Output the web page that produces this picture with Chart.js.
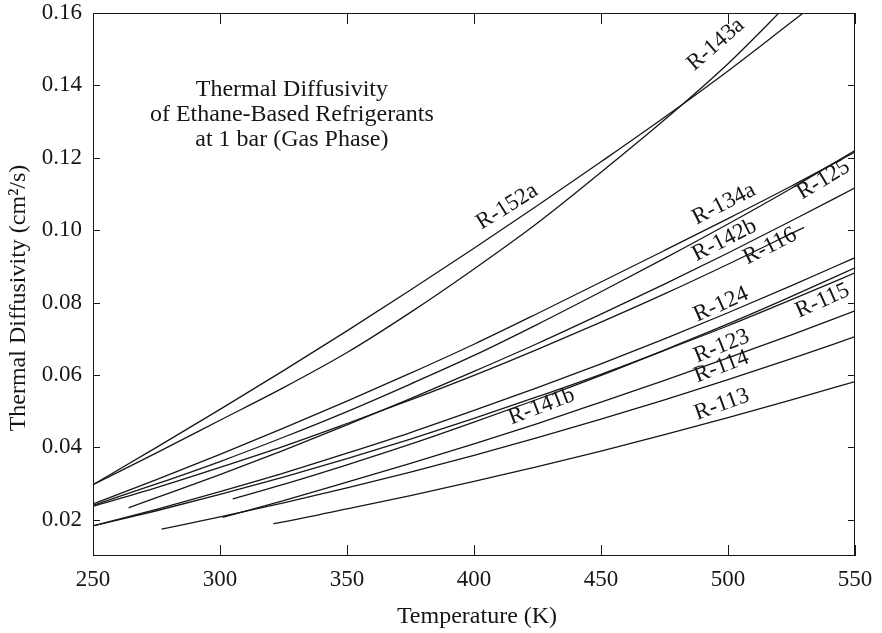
<!DOCTYPE html>
<html>
<head>
<meta charset="utf-8">
<title>Thermal Diffusivity of Ethane-Based Refrigerants</title>
<script src="https://cdn.jsdelivr.net/npm/chart.js@4.4.1/dist/chart.umd.min.js"></script>
<style>
  html, body { margin: 0; padding: 0; background: #fff; }
  #wrap { width: 882px; height: 633px; }
</style>
</head>
<body>
<div id="wrap"><canvas id="diffusivityChart" width="882" height="633"></canvas></div>
<script>
const SERIF = '"Liberation Serif", "Times New Roman", Times, serif';
const INK = '#161616';

// axis ticks
const xTicks = [250, 300, 350, 400, 450, 500, 550];
const yTicks = [0.02, 0.04, 0.06, 0.08, 0.10, 0.12, 0.14, 0.16];

// temperatures (K) the curves were read at
const tempGrid = [250, 275, 300, 325, 350, 375, 400, 425, 450, 475, 500, 525, 550];
const r143aTemps = [250, 275, 300, 325, 350, 375, 400, 425, 450, 475, 500, 525];
const r142bTemps = [264, 275, 300, 325, 350, 375, 400, 425, 450, 475, 500, 525, 550];
const r116Temps = [250, 275, 300, 325, 350, 375, 400, 425, 450, 475, 500, 525, 530];
const r141bTemps = [305, 325, 350, 375, 400, 425, 450, 475, 500, 525, 550];
const r123Temps = [301, 325, 350, 375, 400, 425, 450, 475, 500, 525, 550];
const r114Temps = [277, 300, 325, 350, 375, 400, 425, 450, 475, 500, 525, 550];
const r113Temps = [321, 325, 350, 375, 400, 425, 450, 475, 500, 525, 550];

// thermal diffusivity (cm2/s)
const r152a = [0.0297, 0.0400, 0.0505, 0.0612, 0.0722, 0.0835, 0.0950, 0.1068, 0.1189, 0.1312, 0.1440, 0.1575, 0.1710];
const r143a = [0.0297, 0.0385, 0.0475, 0.0565, 0.0662, 0.0773, 0.0893, 0.1020, 0.1160, 0.1305, 0.1460, 0.1635];
const r134a = [0.0244, 0.0311, 0.0381, 0.0453, 0.0528, 0.0605, 0.0685, 0.0770, 0.0857, 0.0944, 0.1032, 0.1122, 0.1216];
const r125 = [0.0240, 0.0299, 0.0361, 0.0428, 0.0499, 0.0575, 0.0654, 0.0740, 0.0830, 0.0922, 0.1017, 0.1116, 0.1220];
const r142b = [0.0233, 0.0261, 0.0325, 0.0392, 0.0462, 0.0535, 0.0610, 0.0687, 0.0768, 0.0851, 0.0937, 0.1026, 0.1117];
const r116 = [0.0237, 0.0289, 0.0345, 0.0403, 0.0466, 0.0531, 0.0599, 0.0671, 0.0746, 0.0824, 0.0906, 0.0991, 0.1008];
const r124 = [0.0183, 0.0229, 0.0278, 0.0329, 0.0384, 0.0441, 0.0502, 0.0565, 0.0631, 0.0700, 0.0772, 0.0847, 0.0924];
const r115 = [0.0183, 0.0225, 0.0270, 0.0318, 0.0369, 0.0423, 0.0480, 0.0540, 0.0602, 0.0668, 0.0736, 0.0808, 0.0882];
const r141b = [0.0258, 0.0298, 0.0352, 0.0409, 0.0470, 0.0533, 0.0599, 0.0669, 0.0741, 0.0817, 0.0896];
const r123 = [0.0207, 0.0253, 0.0304, 0.0356, 0.0410, 0.0466, 0.0525, 0.0585, 0.0647, 0.0711, 0.0777];
const r114 = [0.0174, 0.0208, 0.0247, 0.0288, 0.0332, 0.0378, 0.0427, 0.0478, 0.0531, 0.0587, 0.0645, 0.0706];
const r113 = [0.0189, 0.0194, 0.0230, 0.0267, 0.0306, 0.0347, 0.0390, 0.0435, 0.0482, 0.0531, 0.0582];

const series = [
  ['R-152a', tempGrid, r152a],
  ['R-143a', r143aTemps, r143a],
  ['R-134a', tempGrid, r134a],
  ['R-125', tempGrid, r125],
  ['R-142b', r142bTemps, r142b],
  ['R-116', r116Temps, r116],
  ['R-124', tempGrid, r124],
  ['R-115', tempGrid, r115],
  ['R-141b', r141bTemps, r141b],
  ['R-123', r123Temps, r123],
  ['R-114', r114Temps, r114],
  ['R-113', r113Temps, r113]
];

// curve names written along the lines (baseline start in data units, angle in degrees)
const curveLabels = [
  { text: 'R-143a', t: 486.7, v: 0.1439, angle: 41 },
  { text: 'R-152a', t: 403.0, v: 0.1001, angle: 32 },
  { text: 'R-134a', t: 487.6, v: 0.1015, angle: 27 },
  { text: 'R-125', t: 529.1, v: 0.1084, angle: 31 },
  { text: 'R-142b', t: 487.6, v: 0.0914, angle: 27 },
  { text: 'R-116', t: 507.7, v: 0.0905, angle: 27 },
  { text: 'R-124', t: 487.9, v: 0.0747, angle: 24 },
  { text: 'R-115', t: 528.0, v: 0.0758, angle: 24 },
  { text: 'R-123', t: 487.9, v: 0.0634, angle: 22 },
  { text: 'R-114', t: 487.9, v: 0.0579, angle: 21 },
  { text: 'R-113', t: 487.9, v: 0.0476, angle: 20 },
  { text: 'R-141b', t: 414.8, v: 0.0463, angle: 21 }
];

const noteLines = ['Thermal Diffusivity', 'of Ethane-Based Refrigerants', 'at 1 bar (Gas Phase)'];

const decorations = {
  id: 'decorations',
  afterDraw(chart) {
    const { ctx, chartArea: a, scales: { x, y } } = chart;
    ctx.save();

    // frame and inward ticks
    ctx.strokeStyle = INK;
    ctx.lineWidth = 1;
    ctx.strokeRect(a.left + 0.5, a.top + 0.5, a.right - a.left - 1, a.bottom - a.top - 1);
    ctx.beginPath();
    xTicks.forEach(t => {
      const px = Math.round(x.getPixelForValue(t)) + 0.5;
      ctx.moveTo(px, a.bottom); ctx.lineTo(px, a.bottom - 11);
      ctx.moveTo(px, a.top); ctx.lineTo(px, a.top + 11);
    });
    yTicks.forEach(v => {
      const py = Math.round(y.getPixelForValue(v)) + 0.5;
      ctx.moveTo(a.left, py); ctx.lineTo(a.left + 7, py);
      ctx.moveTo(a.right, py); ctx.lineTo(a.right - 7, py);
    });
    ctx.stroke();

    ctx.fillStyle = INK;

    // curve labels
    ctx.font = '23px ' + SERIF;
    ctx.textAlign = 'left';
    ctx.textBaseline = 'alphabetic';
    curveLabels.forEach(l => {
      ctx.save();
      ctx.translate(x.getPixelForValue(l.t), y.getPixelForValue(l.v));
      ctx.rotate(-l.angle * Math.PI / 180);
      ctx.fillText(l.text, 0, 0);
      ctx.restore();
    });

    // note in the upper left
    ctx.font = '24px ' + SERIF;
    ctx.textAlign = 'center';
    const nx = x.getPixelForValue(328.3);
    const ny = y.getPixelForValue(0.137);
    noteLines.forEach((line, i) => ctx.fillText(line, nx, ny + i * 25));

    // axis titles
    ctx.textBaseline = 'middle';
    ctx.fillText('Temperature (K)', (a.left + a.right) / 2 + 3, 617);
    ctx.save();
    ctx.translate(19, 298);
    ctx.rotate(-Math.PI / 2);
    ctx.fillText('Thermal Diffusivity (cm\u00B2/s)', 0, 0);
    ctx.restore();

    ctx.restore();
  }
};

const ctx = document.getElementById('diffusivityChart').getContext('2d');

new Chart(ctx, {
  type: 'line',
  data: {
    datasets: series.map(([name, temps, values]) => ({
      label: name,
      data: temps.map((t, i) => ({ x: t, y: values[i] })),
      borderColor: INK,
      borderWidth: 1.3,
      pointRadius: 0,
      fill: false,
      cubicInterpolationMode: 'monotone'
    }))
  },
  options: {
    responsive: false,
    animation: false,
    devicePixelRatio: 1,
    layout: { padding: { top: 13, right: 27, left: 0, bottom: 0 } },
    plugins: {
      legend: { display: false },
      tooltip: { enabled: false }
    },
    scales: {
      x: {
        type: 'linear',
        min: 250,
        max: 550,
        afterBuildTicks: scale => { scale.ticks = xTicks.map(v => ({ value: v })); },
        afterFit: scale => {
          scale.height = 77;
          scale.paddingLeft = 0;
          scale.paddingRight = 0;
        },
        grid: { display: false, drawTicks: false, tickLength: 0 },
        border: { display: false },
        ticks: {
          padding: 10,
          color: INK,
          font: { family: SERIF, size: 23 },
          maxRotation: 0,
          callback: v => String(v)
        }
      },
      y: {
        type: 'linear',
        min: 0.01,
        max: 0.16,
        afterBuildTicks: scale => { scale.ticks = yTicks.map(v => ({ value: v })); },
        afterFit: scale => {
          scale.width = 93;
          scale.paddingTop = 0;
          scale.paddingBottom = 0;
        },
        grid: { display: false, drawTicks: false, tickLength: 0 },
        border: { display: false },
        ticks: {
          padding: 11,
          color: INK,
          font: { family: SERIF, size: 23 },
          callback: v => v.toFixed(2)
        }
      }
    }
  },
  plugins: [decorations]
});
</script>
</body>
</html>
